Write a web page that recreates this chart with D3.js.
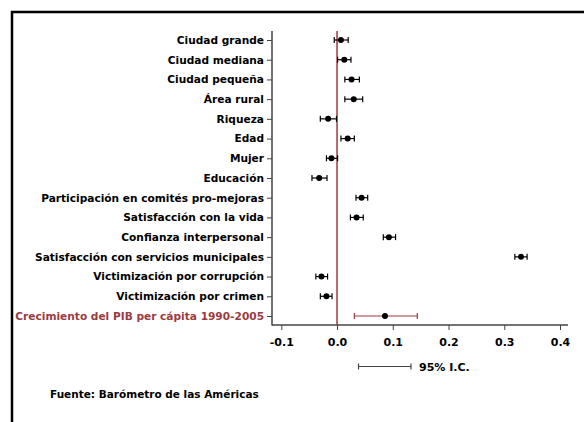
<!DOCTYPE html>
<html>
<head>
<meta charset="utf-8">
<script src="https://cdn.jsdelivr.net/npm/d3@7"></script>
<style>
  body { margin: 0; background: #fff; }
  text { font-family: "DejaVu Sans", "Liberation Sans", Arial, sans-serif; font-weight: bold; }
</style>
</head>
<body>
<div id="chart"></div>
<script>
// variables, top to bottom
const labels = [
  "Ciudad grande", "Ciudad mediana", "Ciudad pequeña", "Área rural", "Riqueza",
  "Edad", "Mujer", "Educación", "Participación en comités pro-mejoras",
  "Satisfacción con la vida", "Confianza interpersonal",
  "Satisfacción con servicios municipales", "Victimización por corrupción",
  "Victimización por crimen", "Crecimiento del PIB per cápita 1990-2005"
];
const estimates = [0.007, 0.013, 0.026, 0.030, -0.016, 0.019, -0.010, -0.032, 0.044, 0.035, 0.093, 0.330, -0.028, -0.019, 0.086];
const lower     = [-0.005, 0.001, 0.014, 0.014, -0.030, 0.007, -0.019, -0.045, 0.034, 0.024, 0.083, 0.319, -0.038, -0.030, 0.031];
const upper     = [0.020, 0.025, 0.040, 0.046, -0.001, 0.031, 0.001, -0.018, 0.055, 0.047, 0.105, 0.341, -0.017, -0.009, 0.144];
const xTicks = [-0.1, 0.0, 0.1, 0.2, 0.3, 0.4];
const highlight = "Crecimiento del PIB per cápita 1990-2005";

const data = labels.map((l, i) => ({ label: l, est: estimates[i], lo: lower[i], hi: upper[i] }));

const W = 584, H = 422;
const red = "#9b3b40";
const axisCol = "#444";

const svg = d3.select("#chart").append("svg")
  .attr("width", W).attr("height", H);

// frame (top and left only visible)
svg.append("line").attr("x1", 11).attr("x2", W).attr("y1", 12).attr("y2", 12)
  .attr("stroke", "#000").attr("stroke-width", 2.5);
svg.append("line").attr("x1", 12).attr("x2", 12).attr("y1", 11).attr("y2", H)
  .attr("stroke", "#000").attr("stroke-width", 2.5);

const x = d3.scaleLinear().domain([-0.1, 0.4]).range([281.3, 560]);
const y = d3.scalePoint().domain(labels).range([40, 316]);

const plotLeft = 272, plotRight = 568, plotTop = 31, plotBottom = 325;

// y axis
const yAxis = svg.append("g")
  .attr("transform", `translate(${plotLeft},0)`)
  .call(d3.axisLeft(y).tickSize(5).tickPadding(3));
yAxis.select(".domain").remove();
yAxis.selectAll(".tick line").attr("stroke", axisCol);
yAxis.selectAll(".tick text")
  .attr("font-size", 10.6)
  .attr("fill", d => d === highlight ? red : "#000");
svg.append("line").attr("x1", plotLeft).attr("x2", plotLeft)
  .attr("y1", plotTop).attr("y2", plotBottom + 0.5)
  .attr("stroke", axisCol).attr("stroke-width", 1.5);

// x axis
const xAxis = svg.append("g")
  .attr("transform", `translate(0,${plotBottom})`)
  .call(d3.axisBottom(x).tickValues(xTicks)
    .tickFormat(d => d3.format(".1f")(d).replace("−", "-"))
    .tickSize(5).tickPadding(8));
xAxis.select(".domain").remove();
xAxis.selectAll(".tick line").attr("stroke", axisCol);
xAxis.selectAll(".tick text").attr("font-size", 11).attr("fill", "#000");
svg.append("line").attr("x1", plotLeft).attr("x2", plotRight)
  .attr("y1", plotBottom).attr("y2", plotBottom)
  .attr("stroke", axisCol).attr("stroke-width", 1.5);

// zero reference line
svg.append("line").attr("x1", x(0)).attr("x2", x(0))
  .attr("y1", plotTop).attr("y2", plotBottom)
  .attr("stroke", red).attr("stroke-width", 1.5);

// error bars
const g = svg.append("g").selectAll("g").data(data).join("g")
  .attr("stroke", d => d.label === highlight ? red : "#000")
  .attr("stroke-width", 1.2);
g.append("line").attr("x1", d => x(d.lo)).attr("x2", d => x(d.hi))
  .attr("y1", d => y(d.label)).attr("y2", d => y(d.label));
g.append("line").attr("x1", d => x(d.lo)).attr("x2", d => x(d.lo))
  .attr("y1", d => y(d.label) - 3).attr("y2", d => y(d.label) + 3);
g.append("line").attr("x1", d => x(d.hi)).attr("x2", d => x(d.hi))
  .attr("y1", d => y(d.label) - 3).attr("y2", d => y(d.label) + 3);
svg.append("g").selectAll("circle").data(data).join("circle")
  .attr("cx", d => x(d.est)).attr("cy", d => y(d.label)).attr("r", 3)
  .attr("fill", "#000");

// legend
const legY = 366.5;
svg.append("line").attr("x1", 358.5).attr("x2", 411).attr("y1", legY).attr("y2", legY)
  .attr("stroke", axisCol).attr("stroke-width", 1.2);
[358.5, 411].forEach(px => svg.append("line").attr("x1", px).attr("x2", px)
  .attr("y1", legY - 3).attr("y2", legY + 3).attr("stroke", axisCol).attr("stroke-width", 1.2));
svg.append("text").attr("x", 419).attr("y", legY + 4)
  .attr("font-size", 11).text("95% I.C.");

// source
svg.append("text").attr("x", 50).attr("y", 397.5)
  .attr("font-size", 10.5).text("Fuente: Barómetro de las Américas");
</script>
</body>
</html>
